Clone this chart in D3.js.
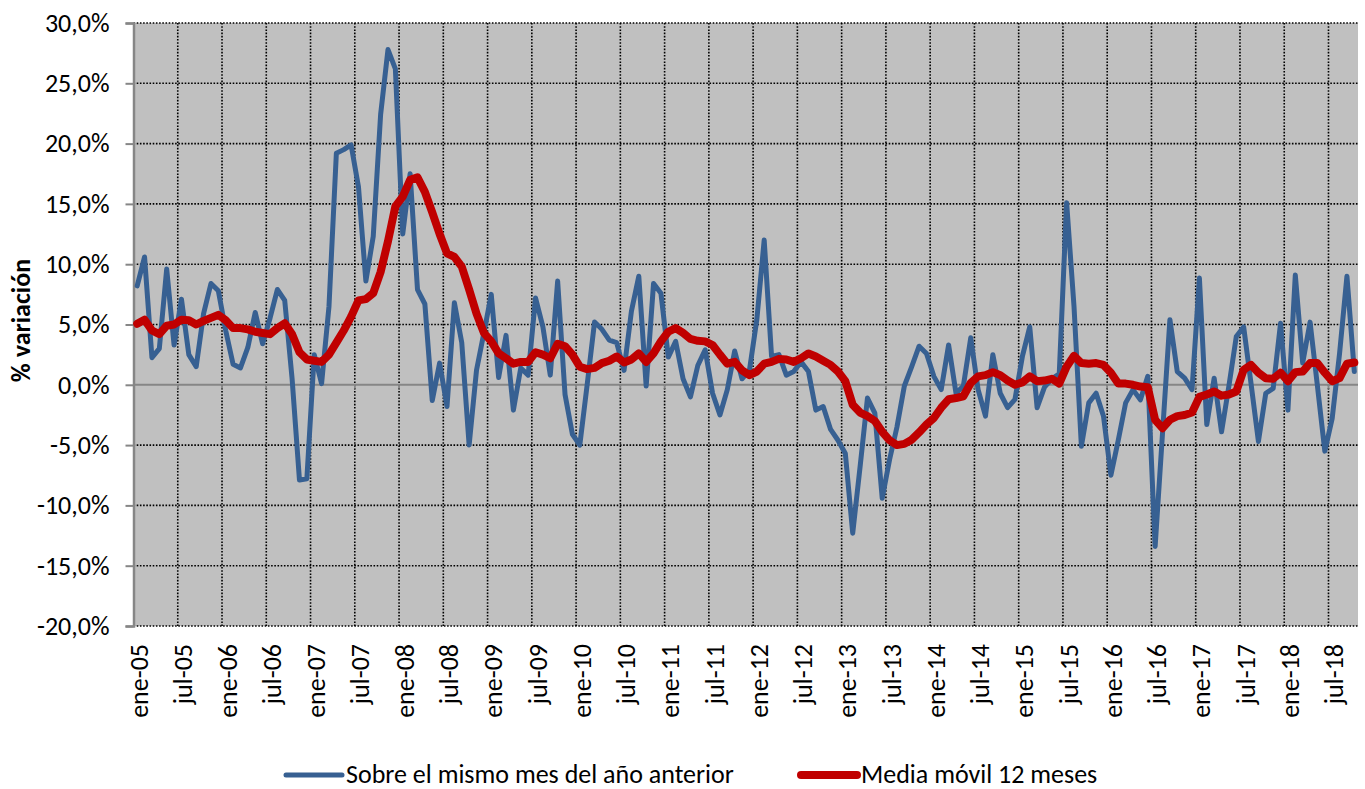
<!DOCTYPE html>
<html>
<head>
<meta charset="utf-8">
<script src="https://cdn.jsdelivr.net/npm/d3@7"></script>
<style>
  body { margin: 0; background: #fff; }
  text { font-family: Carlito, Calibri, Lato, sans-serif; fill: #000; }
</style>
</head>
<body>
<div id="vis"></div>
<script>
const width = 1365;
const height = 789;

// Months ene-05 .. oct-18
const monthNames = ["ene", "feb", "mar", "abr", "may", "jun", "jul", "ago", "sep", "oct", "nov", "dic"];
const tickLabels = ["ene-05", "jul-05", "ene-06", "jul-06", "ene-07", "jul-07", "ene-08", "jul-08",
  "ene-09", "jul-09", "ene-10", "jul-10", "ene-11", "jul-11", "ene-12", "jul-12", "ene-13", "jul-13",
  "ene-14", "jul-14", "ene-15", "jul-15", "ene-16", "jul-16", "ene-17", "jul-17", "ene-18", "jul-18"];
const yTicks = [30, 25, 20, 15, 10, 5, 0, -5, -10, -15, -20];
const seriesNames = ["Sobre el mismo mes del año anterior", "Media móvil 12 meses"];

// % variation over same month of previous year
const yoy = [
  8.2, 10.6, 2.25, 3.0, 9.6, 3.3, 7.1, 2.5, 1.5, 5.9, 8.4, 7.8,
  4.5, 1.7, 1.4, 3.1, 6.0, 3.4, 5.5, 7.9, 7.0, 0.5, -7.9, -7.8,
  2.5, 0.1, 6.5, 19.2, 19.5, 19.9, 16.4, 8.6, 12.3, 22.4, 27.8, 26.2,
  12.5, 17.5, 7.9, 6.7, -1.3, 1.8, -1.8, 6.8, 3.5, -5.0, 1.2, 4.3,
  7.5, 0.6, 4.1, -2.1, 1.4, 0.8, 7.2, 4.8, 0.8, 8.6, -0.8, -4.1,
  -5.0, 0.0, 5.2, 4.6, 3.7, 3.5, 1.2, 6.1, 9.0, -0.1, 8.4, 7.6,
  2.3, 3.6, 0.5, -1.0, 1.6, 2.9, -0.7, -2.5, -0.4, 2.8, 0.5, 1.2,
  5.4, 12.0, 2.35, 2.5, 0.8, 1.1, 1.9, 1.1, -2.1, -1.8, -3.7, -4.6,
  -5.7, -12.3, -6.8, -1.1, -2.35, -9.4, -6.2, -3.5, -0.1, 1.5, 3.2, 2.6,
  0.7, -0.4, 3.3, -0.7, -0.1, 3.9, -0.4, -2.6, 2.5, -0.7, -1.9, -1.2,
  2.35, 4.8, -1.9, -0.2, 0.5, 0.9, 15.1, 6.5, -5.1, -1.5, -0.7, -2.6,
  -7.5, -4.6, -1.5, -0.4, -1.25, 0.7, -13.4, -4.0, 5.4, 1.1, 0.55, -0.4,
  8.85, -3.3, 0.55, -3.9, -0.1, 4.0, 4.8, 0.1, -4.7, -0.7, -0.3, 5.1,
  -2.1, 9.1, 1.8, 5.2, -0.1, -5.5, -2.8, 2.6, 9.0, 1.1
];

// 12-month moving average
const ma12 = [
  5.06, 5.4, 4.5, 4.2, 4.9, 5.0, 5.4, 5.35, 5.0, 5.3, 5.55, 5.8,
  5.35, 4.7, 4.7, 4.6, 4.4, 4.3, 4.2, 4.7, 5.1, 4.2, 2.7, 2.1,
  2.0, 1.9, 2.5, 3.5, 4.5, 5.65, 7.0, 7.1, 7.6, 9.35, 11.9, 14.8,
  15.6, 17.0, 17.2, 16.0, 14.3, 12.5, 10.9, 10.6, 9.8, 7.9, 5.9, 4.3,
  3.6, 2.6, 2.2, 1.75, 1.9, 1.9, 2.7, 2.5, 2.2, 3.4, 3.2, 2.5,
  1.5, 1.3, 1.4, 1.8, 2.0, 2.35, 1.85, 2.1, 2.6, 1.9, 2.6, 3.6,
  4.4, 4.7, 4.3, 3.8, 3.65, 3.6, 3.3, 2.5, 1.75, 1.9, 1.2, 0.8,
  1.1, 1.75, 1.9, 2.15, 2.1, 1.9, 2.2, 2.6, 2.35, 2.0, 1.65, 1.1,
  0.3, -1.65, -2.3, -2.6, -3.0, -3.9, -4.6, -5.0, -4.9, -4.55, -3.95, -3.3,
  -2.75, -1.9, -1.2, -1.1, -0.95, 0.15, 0.7, 0.8, 1.05, 0.8, 0.35, 0.0,
  0.2, 0.7, 0.3, 0.35, 0.5, 0.1, 1.5, 2.4, 1.8, 1.75, 1.8, 1.65,
  1.0, 0.1, 0.1, 0.0, -0.15, -0.2, -2.9, -3.6, -2.9, -2.6, -2.5, -2.3,
  -1.0, -0.8, -0.55, -0.9, -0.8, -0.55, 1.25, 1.65, 1.0, 0.55, 0.5, 1.0,
  0.3, 1.05, 1.1, 1.8, 1.8, 1.0, 0.3, 0.55, 1.75, 1.85
];

const months = yoy.map((d, i) =>
  monthNames[i % 12] + "-" + String(5 + Math.floor(i / 12)).padStart(2, "0"));

const plot = { left: 133.5, right: 1358, top: 23, bottom: 626 };
const fontSize = 26;

const svg = d3.select("#vis").append("svg")
  .attr("width", width)
  .attr("height", height);

const x = d3.scaleBand()
  .domain(months)
  .range([plot.left, plot.right]);

const y = d3.scaleLinear()
  .domain([-20, 30])
  .range([plot.bottom, plot.top]);

const bw = x.bandwidth();
const cx = m => x(m) + bw / 2;

// Plot background
svg.append("rect")
  .attr("x", plot.left)
  .attr("y", plot.top)
  .attr("width", plot.right - plot.left)
  .attr("height", plot.bottom - plot.top)
  .attr("fill", "#c0c0c0");

// Horizontal dotted gridlines
svg.append("g")
  .selectAll("line")
  .data(yTicks.filter(d => d !== 0))
  .enter().append("line")
  .attr("x1", plot.left)
  .attr("x2", plot.right)
  .attr("y1", d => y(d))
  .attr("y2", d => y(d))
  .attr("stroke", "#000")
  .attr("stroke-width", 1.6)
  .attr("stroke-dasharray", "1.6,1.6");

// Vertical dotted gridlines (every 6 months)
svg.append("g")
  .selectAll("line")
  .data(tickLabels.slice(1))
  .enter().append("line")
  .attr("x1", d => x(d))
  .attr("x2", d => x(d))
  .attr("y1", plot.top)
  .attr("y2", plot.bottom)
  .attr("stroke", "#000")
  .attr("stroke-width", 1.6)
  .attr("stroke-dasharray", "1.6,1.6");

// Category axis crossing at 0
svg.append("line")
  .attr("x1", plot.left)
  .attr("x2", plot.right)
  .attr("y1", y(0))
  .attr("y2", y(0))
  .attr("stroke", "#868686")
  .attr("stroke-width", 2);

svg.append("g")
  .selectAll("line")
  .data(tickLabels.slice(1))
  .enter().append("line")
  .attr("x1", d => x(d))
  .attr("x2", d => x(d))
  .attr("y1", y(0))
  .attr("y2", y(0) + 4)
  .attr("stroke", "#868686")
  .attr("stroke-width", 1.5);

// Value axis
const yAxis = d3.axisLeft(y)
  .tickValues(yTicks)
  .tickSize(8)
  .tickPadding(16)
  .tickFormat(d => d.toFixed(1).replace(".", ",") + "%");

const yG = svg.append("g")
  .attr("transform", `translate(${plot.left},0)`)
  .call(yAxis);

yG.select(".domain").attr("stroke", "#868686").attr("stroke-width", 2.5);
yG.selectAll(".tick line").attr("stroke", "#868686").attr("stroke-width", 2);
yG.selectAll(".tick text")
  .style("font-family", "Carlito, Calibri, Lato, sans-serif")
  .attr("font-size", fontSize)
  .attr("fill", "#000");

// Month labels at the bottom
svg.append("g")
  .selectAll("text")
  .data(tickLabels)
  .enter().append("text")
  .attr("transform", d => `translate(${cx(d) + 2},${plot.bottom + 18}) rotate(-90)`)
  .attr("text-anchor", "end")
  .attr("dominant-baseline", "central")
  .attr("font-size", fontSize)
  .text(d => d);

// Axis title
svg.append("text")
  .attr("transform", `translate(21,${(plot.top + plot.bottom) / 2 - 4}) rotate(-90)`)
  .attr("text-anchor", "middle")
  .attr("dominant-baseline", "central")
  .attr("font-size", fontSize)
  .attr("font-weight", "bold")
  .text("% variación");

// Lines
const line = d3.line()
  .x((d, i) => cx(months[i]))
  .y(d => y(d));

svg.append("path")
  .datum(yoy)
  .attr("d", line)
  .attr("fill", "none")
  .attr("stroke", "#376092")
  .attr("stroke-width", 5)
  .attr("stroke-linejoin", "round")
  .attr("stroke-linecap", "round");

svg.append("path")
  .datum(ma12)
  .attr("d", line)
  .attr("fill", "none")
  .attr("stroke", "#c00000")
  .attr("stroke-width", 8)
  .attr("stroke-linejoin", "round")
  .attr("stroke-linecap", "round");

// Legend
const legendItems = [
  { name: seriesNames[0], color: "#376092", w: 5, x: 286 },
  { name: seriesNames[1], color: "#c00000", w: 8, x: 801 }
];

const lg = svg.append("g").selectAll("g")
  .data(legendItems)
  .enter().append("g")
  .attr("transform", d => `translate(${d.x},775)`);

lg.append("line")
  .attr("x1", 0)
  .attr("x2", 56)
  .attr("stroke", d => d.color)
  .attr("stroke-width", d => d.w)
  .attr("stroke-linecap", "round");

lg.append("text")
  .attr("x", 60)
  .attr("y", 8)
  .attr("font-size", fontSize)
  .text(d => d.name);
</script>
</body>
</html>
